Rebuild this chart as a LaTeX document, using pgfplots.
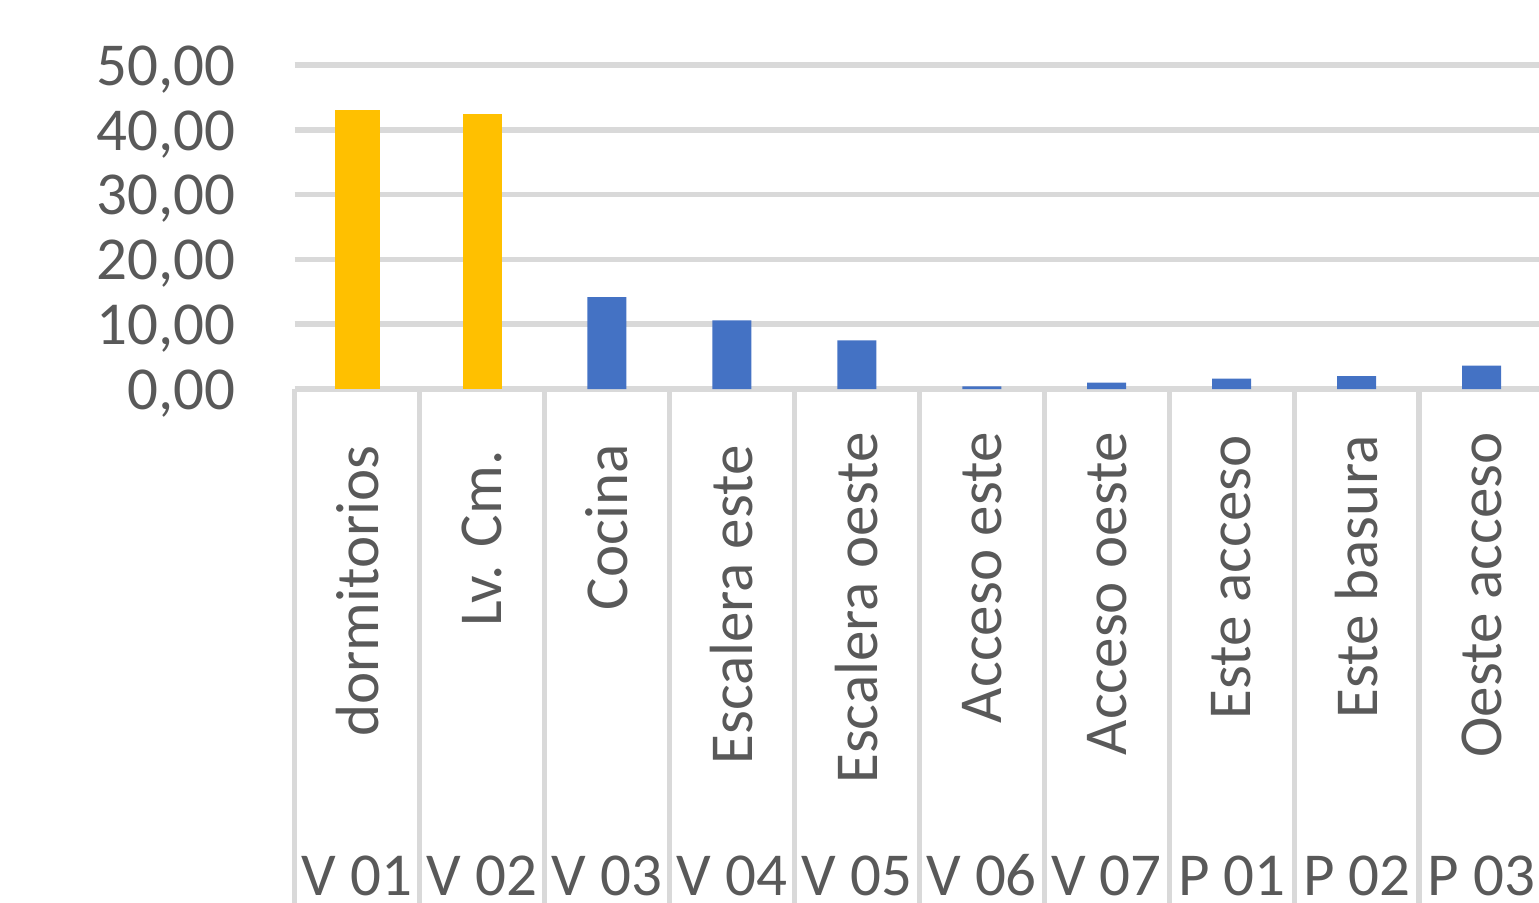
\documentclass[border=0pt]{standalone}
\usepackage{fontspec}
\setmainfont{Carlito}
\usepackage{pgfplots}
\pgfplotsset{compat=1.18}

\definecolor{gridgray}{HTML}{D9D9D9}
\definecolor{txtgray}{HTML}{595959}
\definecolor{barYellow}{HTML}{FFC000}
\definecolor{barBlue}{HTML}{4472C4}

\newcommand{\lblfont}{\fontsize{30.5}{35}\selectfont}

\begin{document}
\begin{tikzpicture}[
  inlbl/.style={rotate=90, anchor=east, inner sep=0pt, text=txtgray, font=\lblfont},
  outlbl/.style={anchor=base, inner sep=0pt, text=txtgray, font=\lblfont},
]
\begin{axis}[
  at={(0,0)}, anchor=south west,
  scale only axis, width=622.2pt, height=162pt,
  xmin=-0.5, xmax=9.46, ymin=0, ymax=50,
  clip=false,
  axis line style={draw=none},
  xtick=\empty,
  ytick={0,10,...,50},
  ymajorgrids,
  grid style={gridgray, line width=2.8pt},
  major tick length=0pt,
  yticklabel style={text=txtgray, font=\lblfont, inner sep=0pt,
    xshift=-29.5pt, yshift=-2.2pt},
  /pgf/number format/.cd, fixed, fixed zerofill, precision=2, use comma,
  assume math mode=true,
  /pgfplots/.cd,
]
% category separators of the two-level axis
\pgfplotsinvokeforeach{-0.5,0.5,1.5,2.5,3.5,4.5,5.5,6.5,7.5,8.5}{
  \draw[gridgray, line width=2.6pt] (axis cs:#1,0) -- ++(0pt,-260pt);
}

% bars
\addplot[ybar, bar shift=0pt, bar width=22.5pt, fill=barYellow, draw=none]
  coordinates {(0,43.1)};
\addplot[ybar, bar shift=0pt, bar width=19.5pt, fill=barYellow, draw=none]
  coordinates {(1,42.5)};
\addplot[ybar, bar shift=0pt, bar width=19.5pt, fill=barBlue, draw=none]
  coordinates {(2,14.2) (3,10.6) (4,7.5) (5,0.4) (6,1.0) (7,1.6) (8,2.0) (9,3.6)};

% inner category labels (rotated), placed by their top end
\node[inlbl] at ([yshift=-28pt]axis cs:0,0) {dormitorios};
\node[inlbl] at ([yshift=-30.5pt]axis cs:1,0) {Lv. Cm.};
\node[inlbl] at ([yshift=-27.5pt]axis cs:2,0) {Cocina};
\node[inlbl] at ([yshift=-28pt]axis cs:3,0) {Escalera este};
\node[inlbl] at ([yshift=-21.5pt]axis cs:4,0) {Escalera oeste};
\node[inlbl] at ([yshift=-21.5pt]axis cs:5,0) {Acceso este};
\node[inlbl] at ([yshift=-21.5pt]axis cs:6,0) {Acceso oeste};
\node[inlbl] at ([yshift=-23pt]axis cs:7,0) {Este acceso};
\node[inlbl] at ([yshift=-23pt]axis cs:8,0) {Este basura};
\node[inlbl] at ([yshift=-21.5pt]axis cs:9,0) {Oeste acceso};

% outer category labels
\node[outlbl] at ([yshift=-253pt]axis cs:0,0) {V 01};
\node[outlbl] at ([yshift=-253pt]axis cs:1,0) {V 02};
\node[outlbl] at ([yshift=-253pt]axis cs:2,0) {V 03};
\node[outlbl] at ([yshift=-253pt]axis cs:3,0) {V 04};
\node[outlbl] at ([yshift=-253pt]axis cs:4,0) {V 05};
\node[outlbl] at ([yshift=-253pt]axis cs:5,0) {V 06};
\node[outlbl] at ([yshift=-253pt]axis cs:6,0) {V 07};
\node[outlbl] at ([yshift=-253pt]axis cs:7,0) {P 01};
\node[outlbl] at ([yshift=-253pt]axis cs:8,0) {P 02};
\node[outlbl] at ([yshift=-253pt]axis cs:9,0) {P 03};
\end{axis}
\pgfresetboundingbox
\path (-147.3pt,-256.5pt) rectangle (622.2pt,194.5pt);
\end{tikzpicture}
\end{document}
